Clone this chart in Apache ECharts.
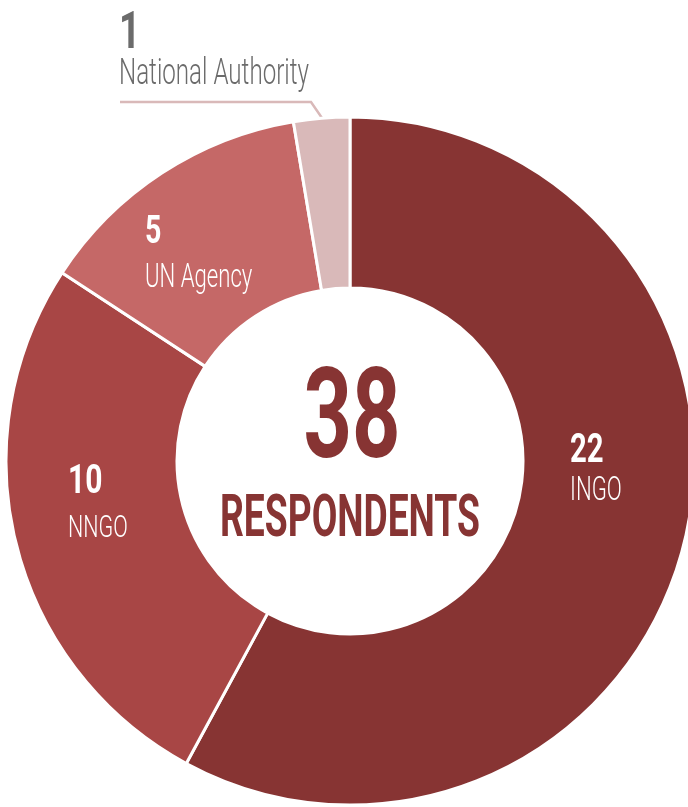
<!DOCTYPE html>
<html><head><meta charset="utf-8">
<script src="https://cdn.jsdelivr.net/npm/echarts@6/dist/echarts.min.js"></script>
<style>html,body{margin:0;padding:0;background:#fff}#c{width:688px;height:807px}</style>
</head><body><div id="c"></div>
<script>
const categories = ['INGO', 'NNGO', 'UN Agency', 'National Authority'];
const values = [22, 10, 5, 1];
const colors = ['#873433', '#A84645', '#C56867', '#D9B9B9'];
const centerLabel = 'RESPONDENTS';

const FONT = "Roboto, 'DejaVu Sans Condensed', sans-serif";
const total = values.reduce((a, b) => a + b, 0);

// label styling: left x, cap-middle y of number and name, font sizes, colour
const labelStyle = [
  { x: 570, yn: 448, yl: 489, fn: 40, fl: 33, color: '#fff' },
  { x: 68,  yn: 479, yl: 526, fn: 41, fl: 32, color: '#fff' },
  { x: 145, yn: 230, yl: 276, fn: 39, fl: 33, color: '#fff' },
  { x: 119, yn: 30,  yl: 72,  fn: 51, fl: 36, color: '#6b6b6b' }
];
const OFF = 0.094; // cap-middle offset (fraction of font size) for middle-aligned text

const ctx = document.createElement('canvas').getContext('2d');
function measure(text, font) { ctx.font = font; return ctx.measureText(text).width; }
const sxLight = 190 / measure('National Authority', '300 36px ' + FONT);
const sxBold = 97 / measure(String(total), 'bold 127px ' + FONT);
const sxResp = 260 / measure(centerLabel, 'bold 59px ' + FONT);

const data = categories.map((name, i) => ({
  name, value: values[i],
  itemStyle: { color: colors[i] },
  label: { show: i === 3, formatter: ' ', position: 'outside', fontSize: 1 },
  labelLine: i === 3 ? { show: true, lineStyle: { color: '#D9B9B9', width: 2.5 } } : { show: false }
}));

const graphics = [];
categories.forEach((name, i) => {
  const s = labelStyle[i];
  graphics.push({
    type: 'text', x: s.x, y: s.yn + OFF * s.fn, scaleX: sxBold * 1.1, z: 100,
    style: { text: String(values[i]), fill: s.color, font: 'bold ' + s.fn + 'px ' + FONT, textAlign: 'left', textVerticalAlign: 'middle' }
  });
  graphics.push({
    type: 'text', x: s.x, y: s.yl + OFF * s.fl, scaleX: sxLight, z: 100,
    style: { text: name, fill: s.color, font: '300 ' + s.fl + 'px ' + FONT, textAlign: 'left', textVerticalAlign: 'middle' }
  });
});
graphics.push({
  type: 'text', x: 352, y: 413 + OFF * 127, scaleX: sxBold, z: 100,
  style: { text: String(total), fill: '#873433', font: 'bold 127px ' + FONT, textAlign: 'center', textVerticalAlign: 'middle' }
});
graphics.push({
  type: 'text', x: 350, y: 516 + OFF * 59, scaleX: sxResp, z: 100,
  style: { text: centerLabel, fill: '#873433', font: 'bold 59px ' + FONT, textAlign: 'center', textVerticalAlign: 'middle' }
});

const chart = echarts.init(document.getElementById('c'), null, { renderer: 'canvas' });
chart.setOption({
  animation: false,
  series: [{
    type: 'pie',
    center: [350, 461],
    radius: [173, 344],
    startAngle: 90,
    clockwise: true,
    avoidLabelOverlap: false,
    itemStyle: { borderColor: '#fff', borderWidth: 3 },
    labelLayout: function (params) {
      if (params.dataIndex === 3) {
        return { x: 120, y: 101, labelLinePoints: [[322, 118], [311, 102], [120, 102]] };
      }
    },
    data
  }],
  graphic: { elements: graphics }
});
</script></body></html>
